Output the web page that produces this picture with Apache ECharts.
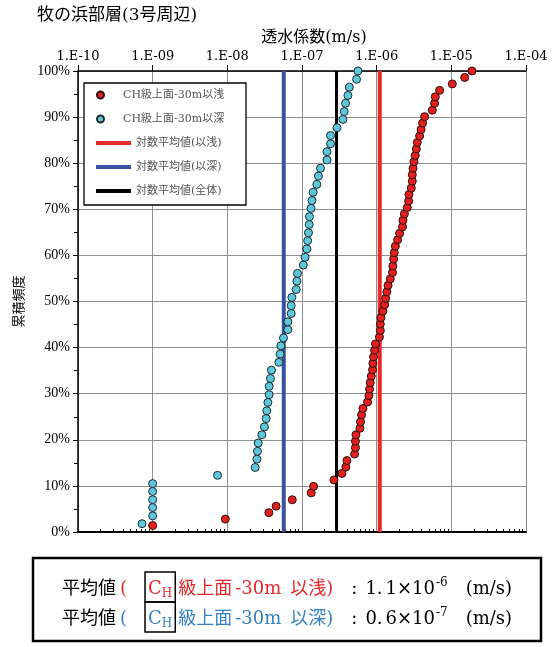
<!DOCTYPE html>
<html><head><meta charset="utf-8">
<script src="https://cdn.jsdelivr.net/npm/echarts@6/dist/echarts.min.js"></script>
<style>html,body{margin:0;padding:0;background:#fff}#c{width:554px;height:647px}</style>
</head><body><div id="c"></div>
<script>
// ---------- data ----------
const titleText = '牧の浜部層(3号周辺)';
const xAxisName = '透水係数(m/s)';
const yAxisName = '累積頻度';
const xTickValues = [1e-10, 1e-9, 1e-8, 1e-7, 1e-6, 1e-5, 1e-4];
const xTickLabels = ['1.E-10', '1.E-09', '1.E-08', '1.E-07', '1.E-06', '1.E-05', '1.E-04'];
const seriesNames = ['CH級上面-30m以浅', 'CH級上面-30m以深', '対数平均値(以浅)', '対数平均値(以深)', '対数平均値(全体)'];

// permeability (m/s) and cumulative frequency (%) : shallower than CH top -30m
const shallowK = [1.0e-9, 9.4e-9, 3.6e-8, 4.5e-8, 7.4e-8, 1.33e-7, 1.43e-7, 2.68e-7, 3.43e-7, 3.87e-7,
  4.0e-7, 5.06e-7, 5.2e-7, 5.2e-7, 5.28e-7, 5.97e-7, 6.08e-7, 6.28e-7, 6.55e-7, 7.55e-7,
  7.89e-7, 8.04e-7, 8.2e-7, 8.47e-7, 8.81e-7, 8.91e-7, 9.08e-7, 9.37e-7, 9.66e-7, 1.09e-6,
  1.12e-6, 1.12e-6, 1.14e-6, 1.21e-6, 1.28e-6, 1.32e-6, 1.37e-6, 1.42e-6, 1.52e-6, 1.63e-6,
  1.65e-6, 1.69e-6, 1.72e-6, 1.78e-6, 1.91e-6, 2.03e-6, 2.22e-6, 2.25e-6, 2.35e-6, 2.57e-6,
  2.68e-6, 2.71e-6, 2.91e-6, 3.0e-6, 3.0e-6, 3.07e-6, 3.16e-6, 3.29e-6, 3.4e-6, 3.5e-6,
  3.76e-6, 3.93e-6, 4.12e-6, 4.39e-6, 5.56e-6, 5.97e-6, 6.1e-6, 6.97e-6, 1.03e-5, 1.51e-5, 1.89e-5];
const shallowP = [1.4, 2.8, 4.2, 5.6, 7.0, 8.5, 9.9, 11.3, 12.7, 14.1,
  15.5, 16.9, 18.3, 19.7, 21.1, 22.5, 23.9, 25.4, 26.8, 28.2,
  29.6, 31.0, 32.4, 33.8, 35.2, 36.6, 38.0, 39.4, 40.8, 42.3,
  43.7, 45.1, 46.5, 47.9, 49.3, 50.7, 52.1, 53.5, 54.9, 56.3,
  57.7, 59.2, 60.6, 62.0, 63.4, 64.8, 66.2, 67.6, 69.0, 70.4,
  71.8, 73.2, 74.6, 76.1, 77.5, 78.9, 80.3, 81.7, 83.1, 84.5,
  85.9, 87.3, 88.7, 90.1, 91.5, 93.0, 94.4, 95.8, 97.2, 98.6, 100.0];

// deeper than CH top -30m
const deepK = [7.2e-10, 1.0e-9, 1.0e-9, 1.0e-9, 1.0e-9, 1.0e-9, 7.4e-9, 2.36e-8, 2.49e-8, 2.53e-8,
  2.59e-8, 2.9e-8, 3.14e-8, 3.31e-8, 3.38e-8, 3.49e-8, 3.63e-8, 3.63e-8, 3.78e-8, 3.9e-8,
  4.9e-8, 5.1e-8, 5.21e-8, 5.65e-8, 6.47e-8, 6.47e-8, 7.16e-8, 7.16e-8, 7.32e-8, 8.36e-8,
  8.55e-8, 8.71e-8, 1.04e-7, 1.1e-7, 1.16e-7, 1.19e-7, 1.22e-7, 1.25e-7, 1.26e-7, 1.32e-7,
  1.36e-7, 1.41e-7, 1.58e-7, 1.66e-7, 1.77e-7, 2.16e-7, 2.16e-7, 2.41e-7, 2.41e-7, 2.94e-7,
  3.53e-7, 3.68e-7, 3.83e-7, 4.12e-7, 4.3e-7, 5.38e-7, 5.61e-7];
const deepP = [1.8, 3.5, 5.3, 7.0, 8.8, 10.5, 12.3, 14.0, 15.8, 17.5,
  19.3, 21.1, 22.8, 24.6, 26.3, 28.1, 29.8, 31.6, 33.3, 35.1,
  36.8, 38.6, 40.4, 42.1, 43.9, 45.6, 47.4, 49.1, 50.9, 52.6,
  54.4, 56.1, 57.9, 59.6, 61.4, 63.2, 64.9, 66.7, 68.4, 70.2,
  71.9, 73.7, 75.4, 77.2, 78.9, 80.7, 82.5, 84.2, 86.0, 87.7,
  89.5, 91.2, 93.0, 94.7, 96.5, 98.2, 100.0];

// log-mean values: shallow, deep, all
const meanValues = [1.1e-6, 5.7e-8, 2.9e-7];
const freqRange = [0, 100];

// summary box texts
const summaryLead = '平均値';
const summaryClass = ['級上面', '級上面'];
const summaryDepth = ['-30m', '-30m'];
const summaryTail = ['以浅)', '以深)'];
const summaryMantissaA = ['1.', '0.'];
const summaryMantissaB = ['1×10', '6×10'];
const summaryExponent = ['-6', '-7'];
const summaryUnit = '(m/s)';

// ---------- styles ----------
const SERIF = '"DejaVu Serif","Noto Sans CJK JP",serif';
const TIMES = '"Liberation Serif","Noto Sans CJK JP",serif';
const RED = '#e62a27', CYAN = '#5ec8da', BLUE = '#3a52a3', BLACK = '#000';
const TEXT_RED = '#e8262a', TEXT_BLUE = '#3580c2';

// minor log ticks (axis decoration)
const minorTicks = [];
for (let d = -10; d < -4; d++) for (let m = 2; m <= 9; m++) minorTicks.push(m * Math.pow(10, d));

const chart = echarts.init(document.getElementById('c'), null, {renderer: 'canvas'});

function labelFor(v) {
  const idx = Math.round(Math.log10(v)) + 10;
  return xTickLabels[idx] || '';
}

// summary layout (positions via text measuring)
const measureCtx = document.createElement('canvas').getContext('2d');
function buildLine(y, idx, color) {
  const segs = [
    {t: summaryLead, c: BLACK},
    {t: '(', c: color, gap: 4},
    {t: 'C', c: color, gap: 21, boxStart: true},
    {t: 'H', c: color, size: 12, dy: 5, boxEnd: true},
    {t: summaryClass[idx], c: color, gap: 6},
    {t: summaryDepth[idx], c: color, gap: 3},
    {t: summaryTail[idx], c: color, gap: 9},
    {t: ':', c: BLACK, gap: 18},
    {t: summaryMantissaA[idx], c: BLACK, gap: 8},
    {t: summaryMantissaB[idx], c: BLACK, gap: 3},
    {t: summaryExponent[idx], c: BLACK, size: 12, dy: -6, gap: 1},
    {t: summaryUnit, c: BLACK, gap: 18}
  ];
  let x = 62, bs = 0, be = 0;
  const els = [];
  segs.forEach(s => {
    const size = s.size || 18;
    x += s.gap || 0;
    measureCtx.font = size + 'px ' + SERIF;
    const w = measureCtx.measureText(s.t).width;
    if (s.boxStart) bs = x;
    els.push({type: 'text', x: x, y: y + (s.dy || 0), z: 10,
      style: {text: s.t, fontSize: size, fontFamily: SERIF, fill: s.c, align: 'left', verticalAlign: 'middle'}});
    x += w;
    if (s.boxEnd) be = x;
  });
  els.push({type: 'rect', z: 10, shape: {x: bs - 3, y: y - 17, width: be - bs + 6, height: 30},
    style: {fill: 'none', stroke: '#000', lineWidth: 1.5}});
  return els;
}

const axisBase = {type: 'log', logBase: 10, min: xTickValues[0], max: xTickValues[xTickValues.length - 1], gridIndex: 0};

const option = {
  animation: false,
  backgroundColor: '#fff',
  grid: {left: 78, right: 28, top: 71, bottom: 115, containLabel: false},
  xAxis: [
    Object.assign({}, axisBase, {
      position: 'top',
      axisLine: {show: true, onZero: false, lineStyle: {color: '#000', width: 1.5}},
      axisTick: {show: true, inside: false, length: 6, lineStyle: {color: '#000'}, customValues: xTickValues},
      axisLabel: {show: true, formatter: labelFor, fontSize: 13, color: '#000', fontFamily: SERIF, margin: 8, customValues: xTickValues},
      splitLine: {show: true, lineStyle: {color: '#8f8f8f', width: 1}}
    }),
    Object.assign({}, axisBase, {
      position: 'top',
      axisLine: {show: false},
      axisTick: {show: true, inside: false, length: 3, lineStyle: {color: '#000'}, customValues: minorTicks},
      axisLabel: {show: false},
      splitLine: {show: false}
    }),
    Object.assign({}, axisBase, {
      position: 'bottom',
      axisLine: {show: true, onZero: false, lineStyle: {color: '#000', width: 2}},
      axisTick: {show: false},
      axisLabel: {show: false},
      splitLine: {show: false}
    })
  ],
  yAxis: {
    type: 'value', min: 0, max: 100, interval: 10,
    name: yAxisName, nameLocation: 'middle', nameRotate: 90, nameGap: 51,
    nameTextStyle: {fontSize: 13, color: '#000', fontFamily: SERIF},
    axisLine: {show: true, lineStyle: {color: '#000', width: 1.5}},
    axisTick: {show: true, inside: false, length: 5, lineStyle: {color: '#000'}},
    minorTick: {show: true, splitNumber: 2, length: 4, lineStyle: {color: '#000'}},
    axisLabel: {formatter: '{value}%', fontSize: 14, color: '#000', fontFamily: TIMES, margin: 8},
    splitLine: {show: true, lineStyle: {color: '#8f8f8f', width: 1}}
  },
  legend: [
    {orient: 'vertical', left: 96, top: 87, padding: 0, itemWidth: 35, itemHeight: 7, itemGap: 8,
      selectedMode: false, z: 6,
      textStyle: {fontSize: 11, color: '#555', fontFamily: SERIF, lineHeight: 16},
      data: [{name: seriesNames[0], icon: 'circle'}, {name: seriesNames[1], icon: 'circle'}]},
    {orient: 'vertical', left: 96, top: 135, padding: 0, itemWidth: 35, itemHeight: 4, itemGap: 8,
      selectedMode: false, z: 6,
      textStyle: {fontSize: 11, color: '#555', fontFamily: SERIF, lineHeight: 16},
      data: [{name: seriesNames[2], icon: 'rect'}, {name: seriesNames[3], icon: 'rect'}, {name: seriesNames[4], icon: 'rect'}]}
  ],
  graphic: [
    {type: 'text', left: 37, top: 7, z: 10,
      style: {text: titleText, fontSize: 17, fontFamily: SERIF, fill: '#000'}},
    {type: 'text', x: 314, y: 38, z: 10,
      style: {text: xAxisName, fontSize: 16, fontFamily: SERIF, fill: '#000', align: 'center', verticalAlign: 'middle'}},
    {type: 'rect', z: 5, shape: {x: 84, y: 83, width: 162, height: 122},
      style: {fill: '#fff', stroke: '#000', lineWidth: 1.3}},
    {type: 'rect', z: 10, shape: {x: 33, y: 558, width: 508, height: 83},
      style: {fill: 'none', stroke: '#000', lineWidth: 2.5}}
  ].concat(buildLine(589, 0, TEXT_RED)).concat(buildLine(619, 1, TEXT_BLUE)),
  series: [
    {name: seriesNames[2], type: 'line', xAxisIndex: 0, symbol: 'none', z: 2, color: RED,
      lineStyle: {color: RED, width: 4}, itemStyle: {color: RED},
      data: freqRange.map(p => [meanValues[0], p])},
    {name: seriesNames[3], type: 'line', xAxisIndex: 0, symbol: 'none', z: 2, color: BLUE,
      lineStyle: {color: BLUE, width: 4}, itemStyle: {color: BLUE},
      data: freqRange.map(p => [meanValues[1], p])},
    {name: seriesNames[4], type: 'line', xAxisIndex: 0, symbol: 'none', z: 2, color: BLACK,
      lineStyle: {color: BLACK, width: 3}, itemStyle: {color: BLACK},
      data: freqRange.map(p => [meanValues[2], p])},
    {name: seriesNames[1], type: 'scatter', xAxisIndex: 0, symbol: 'circle', symbolSize: 8, z: 3, color: CYAN,
      itemStyle: {color: CYAN, opacity: 1, borderColor: '#1c2c30', borderWidth: 1},
      data: deepK.map((k, i) => [k, deepP[i]])},
    {name: seriesNames[0], type: 'scatter', xAxisIndex: 0, symbol: 'circle', symbolSize: 8, z: 3, color: '#e3201e',
      itemStyle: {color: '#e3201e', opacity: 1, borderColor: '#2a1010', borderWidth: 1},
      data: shallowK.map((k, i) => [k, shallowP[i]])}
  ]
};
chart.setOption(option);
</script>
</body></html>
